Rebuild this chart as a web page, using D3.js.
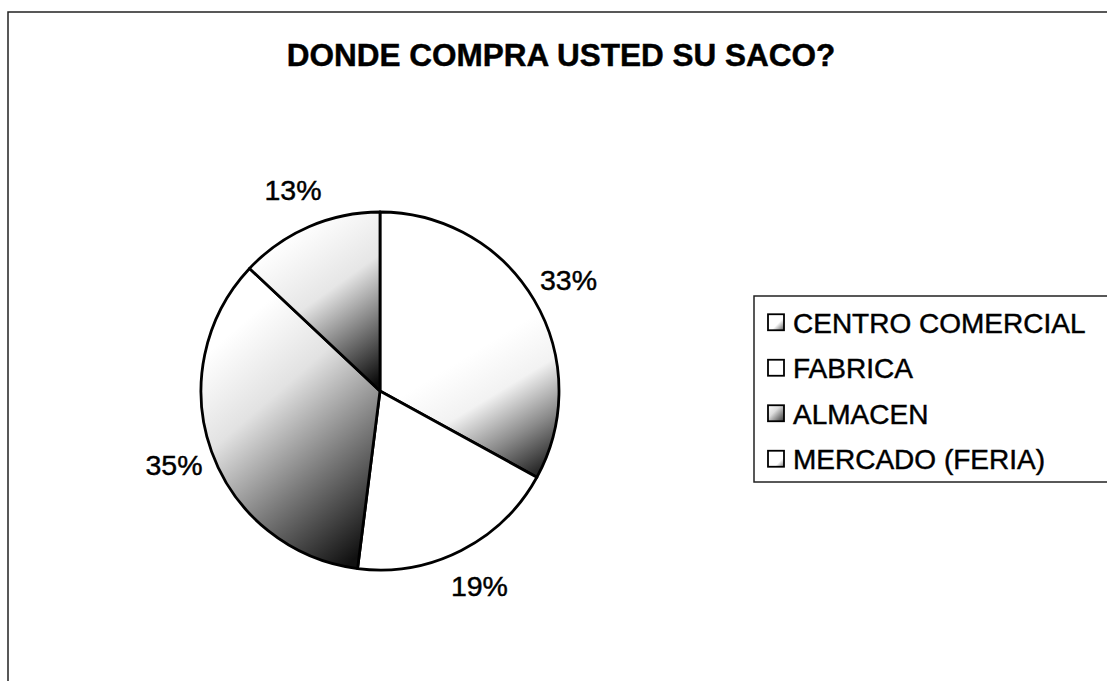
<!DOCTYPE html>
<html lang="es">
<head>
<meta charset="UTF-8">
<title>DONDE COMPRA USTED SU SACO?</title>
<script src="https://cdn.jsdelivr.net/npm/d3@7"></script>
<style>
    body { margin: 0; background: #fff; }
    text { font-family: "Liberation Sans", Arial, sans-serif; fill: #000; stroke: #000; stroke-width: 0.45; }
</style>
</head>
<body>
<svg id="chart" width="1107" height="681"></svg>
<script>
    // data
    const categories = ["CENTRO COMERCIAL", "FABRICA", "ALMACEN", "MERCADO (FERIA)"];
    const values = [33, 19, 35, 13];
    const pctLabels = ["33%", "19%", "35%", "13%"];
    const title = "DONDE COMPRA USTED SU SACO?";

    var svg = d3.select("#chart");
    var cx = 380, cy = 391, radius = 179;

    // gradients to mimic the shaded slices (coords relative to pie centre)
    var defs = svg.append("defs");
    function grad(id, x1, y1, x2, y2, stops, units) {
        var g = defs.append("linearGradient").attr("id", id)
            .attr("x1", x1).attr("y1", y1).attr("x2", x2).attr("y2", y2);
        if (units) g.attr("gradientUnits", units);
        stops.forEach(s => g.append("stop").attr("offset", s[0]).attr("stop-color", s[1]));
    }
    grad("g0", 95, -40, 165, 75,
        [[0, "#ffffff"], [0.35, "#f2f2f2"], [0.7, "#8a8a8a"], [1, "#2a2a2a"]], "userSpaceOnUse");
    grad("g2", -170, -40, -5, 150,
        [[0, "#ffffff"], [0.3, "#e2e2e2"], [0.65, "#787878"], [1, "#111111"]], "userSpaceOnUse");
    grad("g3", -100, -150, 0, -10,
        [[0, "#ffffff"], [0.4, "#e6e6e6"], [0.75, "#666666"], [1, "#0a0a0a"]], "userSpaceOnUse");
    grad("s0", 0, 0, 1, 1, [[0, "#ffffff"], [0.6, "#ffffff"], [1, "#555"]]);
    grad("s2", 0, 0, 1, 1, [[0, "#ffffff"], [0.4, "#dddddd"], [1, "#333"]]);
    grad("s3", 0, 0, 1, 1, [[0, "#ffffff"], [0.7, "#ffffff"], [1, "#777"]]);
    const sliceFill = ["url(#g0)", "#ffffff", "url(#g2)", "url(#g3)"];
    const swatchFill = ["url(#s0)", "#ffffff", "url(#s2)", "url(#s3)"];

    // outer frame
    svg.append("rect")
        .attr("x", 8).attr("y", 12)
        .attr("width", 1120).attr("height", 700)
        .attr("fill", "none").attr("stroke", "#222").attr("stroke-width", 1.5);

    svg.append("text")
        .attr("x", 561).attr("y", 66)
        .attr("text-anchor", "middle")
        .attr("font-size", 31.5).attr("font-weight", "bold")
        .text(title);

    var pie = d3.pie().sort(null).value(d => d);
    var arcs = pie(values);
    var arc = d3.arc().innerRadius(0).outerRadius(radius);
    var labelArc = d3.arc().innerRadius(219).outerRadius(219);

    var g = svg.append("g").attr("transform", `translate(${cx},${cy})`);

    g.selectAll("path.slice")
        .data(arcs)
        .enter()
        .append("path")
        .classed("slice", true)
        .attr("d", arc)
        .attr("fill", (d, i) => sliceFill[i])
        .attr("stroke", "#000")
        .attr("stroke-width", 2.8)
        .attr("stroke-linejoin", "round");

    g.selectAll("text.pct")
        .data(arcs)
        .enter()
        .append("text")
        .classed("pct", true)
        .attr("transform", d => `translate(${labelArc.centroid(d)})`)
        .attr("text-anchor", "middle")
        .attr("dy", "0.36em")
        .attr("font-size", 28.5)
        .text((d, i) => pctLabels[i]);

    // legend
    var legend = svg.append("g").attr("transform", "translate(754,296)");
    legend.append("rect")
        .attr("width", 380).attr("height", 186)
        .attr("fill", "#fff").attr("stroke", "#222").attr("stroke-width", 1.5);

    var rowY = d3.scaleBand().domain(categories).range([4, 186]);

    var items = legend.selectAll("g.item")
        .data(categories)
        .enter()
        .append("g")
        .classed("item", true)
        .attr("transform", d => `translate(0,${rowY(d) + rowY.bandwidth() / 2})`);

    items.append("rect")
        .attr("x", 14).attr("y", -8.5)
        .attr("width", 16).attr("height", 16)
        .attr("fill", (d, i) => swatchFill[i])
        .attr("stroke", "#000").attr("stroke-width", 1.8);

    items.append("text")
        .attr("x", 39).attr("dy", "0.36em")
        .attr("font-size", 28)
        .text(d => d);
</script>
</body>
</html>
